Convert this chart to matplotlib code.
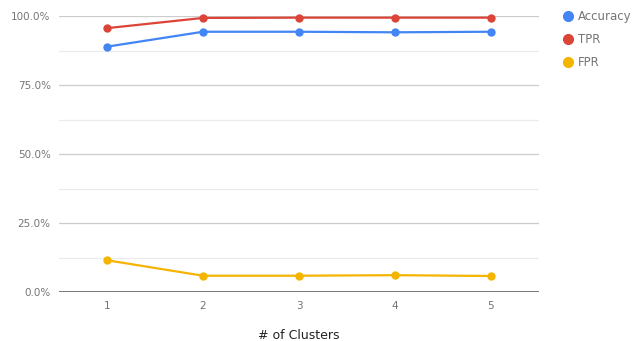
import matplotlib
matplotlib.use("Agg")
import matplotlib.pyplot as plt
from matplotlib.ticker import MultipleLocator, FuncFormatter
from matplotlib.lines import Line2D

clusters = [1, 2, 3, 4, 5]
accuracy = [88.9, 94.3, 94.3, 94.1, 94.3]
tpr = [95.6, 99.3, 99.4, 99.4, 99.4]
fpr = [11.6, 6.0, 6.0, 6.2, 5.9]

series = [("Accuracy", accuracy, "#4285F4"),
          ("TPR", tpr, "#DB4437"),
          ("FPR", fpr, "#F4B400")]

W, H = 636, 341
fig = plt.figure(figsize=(W / 100, H / 100), dpi=100)
ax = fig.add_axes([59 / W, 1 - 292.3 / H, 480 / W, 276.3 / H])

for name, vals, col in series:
    ax.plot(clusters, vals, color=col, lw=1.6, marker="o", ms=5,
            solid_capstyle="round", zorder=3, clip_on=False)

ax.set_xlim(0.5, 5.5)
ax.set_ylim(0, 100)
ax.yaxis.set_major_locator(MultipleLocator(25))
ax.yaxis.set_minor_locator(MultipleLocator(12.5))
ax.yaxis.set_major_formatter(FuncFormatter(lambda v, p: f"{v:.1f}%"))
ax.set_xticks(clusters)

ax.set_axisbelow(True)
ax.grid(axis="y", which="major", color="#cccccc", lw=0.9)
ax.grid(axis="y", which="minor", color="#ebebeb", lw=0.9)
ax.axhline(0, color="#555555", lw=1.1, zorder=2.5)
for s in ax.spines.values():
    s.set_visible(False)
ax.tick_params(axis="both", which="both", length=0, labelsize=7.5,
               labelcolor="#757575")
ax.tick_params(axis="y", pad=6)
ax.tick_params(axis="x", pad=6)

ax.set_xlabel("# of Clusters", fontsize=9, color="#222222", labelpad=13)

handles = [Line2D([], [], color=c, marker="o", ls="none", ms=7) for _, _, c in series]
fig.legend(handles, [n for n, _, _ in series], loc="upper left",
           bbox_to_anchor=(557 / W, 1 - 5 / H), frameon=False, fontsize=8.5,
           labelcolor="#757575", handletextpad=0.35, labelspacing=0.85,
           borderaxespad=0, handlelength=1.0)

fig.savefig("out.png", dpi=100, facecolor="white")
